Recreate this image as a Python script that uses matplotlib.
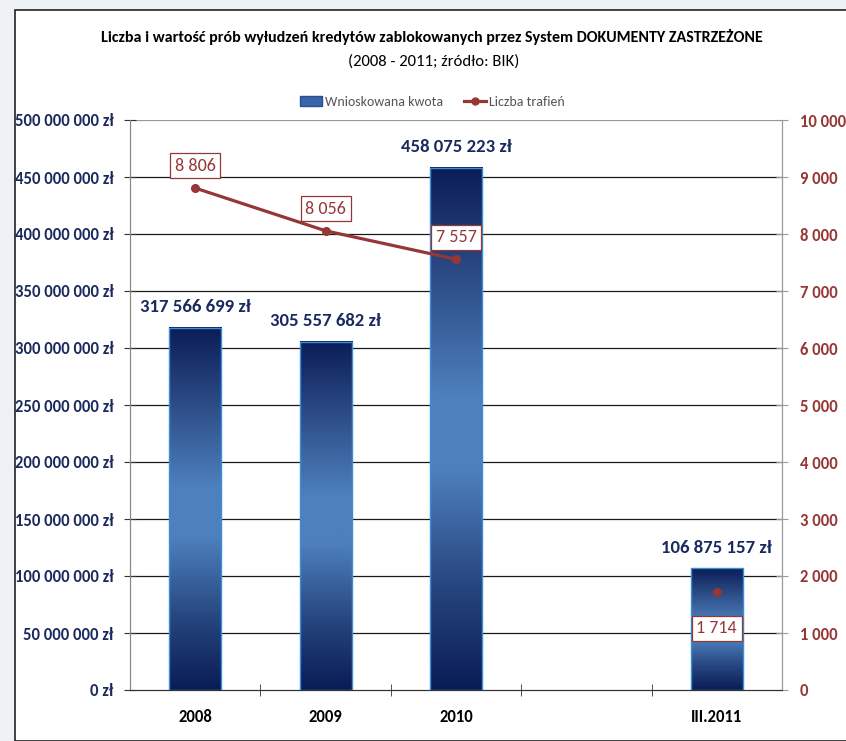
import numpy as np
import matplotlib
matplotlib.use('AGG')
import matplotlib.pyplot as plt
from matplotlib.colors import LinearSegmentedColormap
from matplotlib.patches import Rectangle
from matplotlib.lines import Line2D
from matplotlib import font_manager

# dane
categories = ['2008', '2009', '2010', '', 'III.2011']
amounts = [317566699, 305557682, 458075223, None, 106875157]
hits = [8806, 8056, 7557, None, 1714]
left_ticks = [0, 50e6, 100e6, 150e6, 200e6, 250e6, 300e6, 350e6, 400e6, 450e6, 500e6]
right_ticks = [0, 1000, 2000, 3000, 4000, 5000, 6000, 7000, 8000, 9000, 10000]

names = {f.name for f in font_manager.fontManager.ttflist}
FONT = 'DejaVu Sans'
for cand in ['Carlito', 'Liberation Sans Narrow', 'DejaVu Sans Condensed', 'Lato']:
    if cand in names:
        FONT = cand
        break
plt.rcParams['font.family'] = [FONT, 'DejaVu Sans']

NAVY = '#1b2a5e'
RED = '#953735'

def fmt(v):
    return '{:,}'.format(int(v)).replace(',', ' ')

fig = plt.figure(figsize=(8.46, 7.41), dpi=100, facecolor='#eef1f6')
fig.patches.append(Rectangle((15 / 846, 0), 1, 1 - 10 / 741, transform=fig.transFigure,
                             facecolor='white', edgecolor='#222222', lw=1.2, zorder=-5))

ax = fig.add_axes([130 / 846, 51 / 741, 652 / 846, 570 / 741])
ax.set_facecolor('none')
ax2 = ax.twinx()

x = np.arange(len(categories))

# gridlines
for t in left_ticks[1:-1]:
    ax.axhline(t, color='#1a1a1a', lw=0.9, zorder=1)
ax.axhline(500e6, color='#999999', lw=0.9, zorder=1)

# gradient bars (ciemne na krawędziach, jasne w środku)
cmap = LinearSegmentedColormap.from_list('bar', [
    (0.0, '#0a1c56'), (0.2, '#27467f'), (0.42, '#4d80bd'),
    (0.56, '#4d80bd'), (0.8, '#2b4a84'), (1.0, '#0b1d58')])
grad = np.linspace(0, 1, 256).reshape(-1, 1)
w = 0.4
for xi, a in zip(x, amounts):
    if a is None:
        continue
    ax.imshow(grad, cmap=cmap, aspect='auto', extent=(xi - w / 2, xi + w / 2, 0, a),
              origin='lower', zorder=2)
    ax.add_patch(Rectangle((xi - w / 2, 0), w, a, fill=False, edgecolor='#3c8fd6', lw=1, zorder=3))
    ax.annotate(fmt(a) + ' zł', (xi, a), xytext=(0, 9), textcoords='offset points',
                ha='center', va='bottom', fontsize=13.5, fontweight='bold', color=NAVY)

ax.set_xlim(-0.5, len(categories) - 0.5)
ax.set_ylim(0, 500e6)
ax2.set_ylim(0, 10000)

# line
hy = [np.nan if h is None else h for h in hits]
ax2.plot(x, hy, color=RED, lw=2.3, marker='o', ms=5.5, zorder=5)
for xi, h in zip(x, hits):
    if h is None:
        continue
    dy = -26 if xi == 4 else 16
    ax2.annotate(fmt(h), (xi, h), xytext=(0, dy), textcoords='offset points',
                 ha='center', va='center', fontsize=13, color=RED,
                 bbox=dict(boxstyle='square,pad=0.25', fc='white', ec=RED, lw=0.9))

ax.set_xticks(x)
ax.set_xticklabels(categories, fontsize=12, fontweight='bold', color='black')
ax.set_xticks(np.arange(0.5, len(categories) - 1), minor=True)
ax.tick_params(axis='x', which='major', length=0, pad=14)
ax.tick_params(axis='x', which='minor', length=8, direction='inout', color='#333333')

ax.set_yticks(left_ticks)
ax.set_yticklabels([fmt(t) + ' zł' for t in left_ticks], fontsize=12, fontweight='bold', color=NAVY)
ax.tick_params(axis='y', length=8, direction='inout', color='#333333', pad=8)
ax2.set_yticks(right_ticks)
ax2.set_yticklabels([fmt(t) for t in right_ticks], fontsize=12, fontweight='bold', color=RED)
ax2.tick_params(axis='y', length=8, direction='inout', color='#999999', pad=9)

for a_ in (ax, ax2):
    a_.spines['top'].set_visible(False)
    a_.spines['left'].set_color('#888888')
    a_.spines['right'].set_color('#999999')
    a_.spines['bottom'].set_color('#333333')

fig.text(432 / 846, 1 - 37 / 741, 'Liczba i wartość prób wyłudzeń kredytów zablokowanych przez System DOKUMENTY ZASTRZEŻONE',
         ha='center', va='center', fontsize=11.5, fontweight='bold')
fig.text(434 / 846, 1 - 62 / 741, '(2008 - 2011; źródło: BIK)', ha='center', va='center', fontsize=12)

handles = [Rectangle((0, 0), 1, 1, facecolor='#3a64a8', edgecolor='#2a4f90'),
           Line2D([], [], color=RED, lw=2.3, marker='o', ms=5)]
fig.legend(handles, ['Wnioskowana kwota', 'Liczba trafień'], loc='center',
           bbox_to_anchor=(432 / 846, 1 - 102 / 741), ncol=2, frameon=False, fontsize=10,
           labelcolor='#555555', handlelength=1.6, handletextpad=0.2, columnspacing=1.5)

fig.savefig('out.png', dpi=100, facecolor=fig.get_facecolor())
